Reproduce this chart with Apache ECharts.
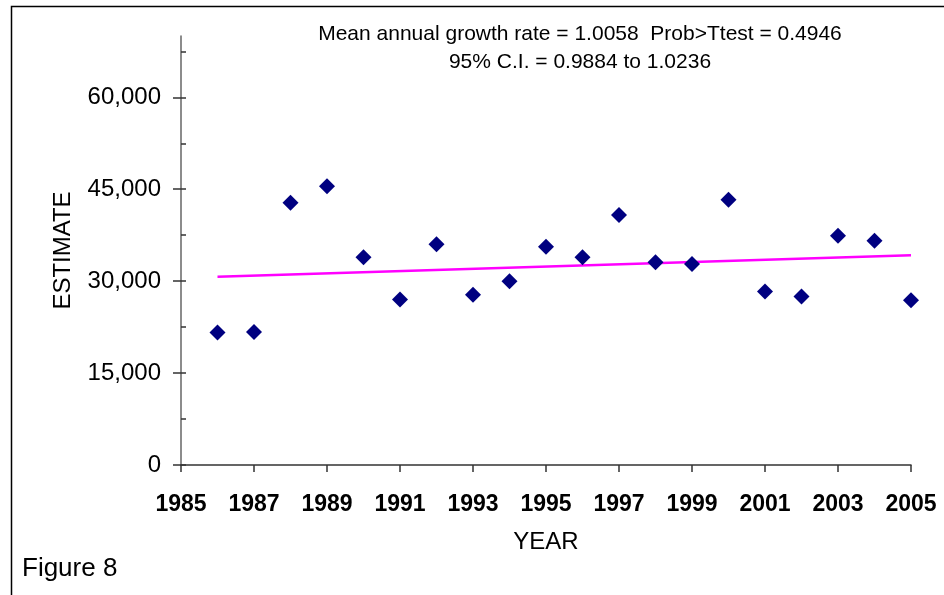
<!DOCTYPE html>
<html>
<head>
<meta charset="utf-8">
<script src="https://cdn.jsdelivr.net/npm/echarts@6/dist/echarts.min.js"></script>
<style>
  html, body { margin: 0; padding: 0; background: #fff; }
  #chart { width: 944px; height: 595px; }
</style>
</head>
<body>
<div id="chart"></div>
<script>
// survey estimates by year
const years = [1986, 1987, 1988, 1989, 1990, 1991, 1992, 1993, 1994, 1995,
  1996, 1997, 1998, 1999, 2000, 2001, 2002, 2003, 2004, 2005];
const estimates = [21600, 21700, 42800, 45500, 33900, 27000, 36000, 27800, 30000, 35600,
  33900, 40800, 33100, 32800, 43300, 28300, 27500, 37400, 36600, 26900];

// fitted trend (start and end year)
const trendYears = [1986, 2005];
const trendValues = [30730, 34230];

// y-axis labels / ticks
const majorTicks = [0, 15000, 30000, 45000, 60000];
const minorTicks = [0, 7500, 15000, 22500, 30000, 37500, 45000, 52500, 60000, 67500];

const titleLines = [
  'Mean annual growth rate = 1.0058  Prob>Ttest = 0.4946',
  '95% C.I. = 0.9884 to 1.0236'
];

const chart = echarts.init(document.getElementById('chart'), null, { renderer: 'canvas' });
const font = 'Liberation Sans, Arial, sans-serif';

const option = {
  animation: false,
  backgroundColor: '#fff',
  textStyle: { fontFamily: font },
  title: {
    text: titleLines.join('\n'),
    left: 580,
    top: 20,
    padding: 0,
    textAlign: 'center',
    textStyle: { fontFamily: font, fontSize: 21, fontWeight: 'normal', color: '#000', lineHeight: 28 }
  },
  graphic: [
    {
      type: 'rect',
      shape: { x: 11.5, y: 6.5, width: 1000, height: 700 },
      style: { fill: null, stroke: '#000', lineWidth: 1.5 },
      silent: true
    },
    {
      type: 'text',
      left: 22,
      top: 556,
      style: { text: 'Figure 8', font: '26px ' + font, fill: '#000' }
    }
  ],
  grid: { left: 181, right: 33, top: 36, bottom: 130 },
  xAxis: {
    type: 'value',
    min: 1985,
    max: 2005,
    interval: 2,
    name: 'YEAR',
    nameLocation: 'middle',
    nameGap: 65,
    nameTextStyle: { fontSize: 24, color: '#000' },
    splitLine: { show: false },
    axisLine: { onZero: false, lineStyle: { color: '#333', width: 1.5 } },
    axisTick: { inside: false, length: 7, lineStyle: { color: '#333', width: 1.5 } },
    axisLabel: {
      margin: 28,
      fontSize: 23,
      fontWeight: 'bold',
      color: '#000',
      formatter: v => String(v)
    }
  },
  yAxis: [
    {
      type: 'value',
      min: 0,
      max: 70000,
      name: 'ESTIMATE',
      nameLocation: 'middle',
      nameGap: 106,
      nameTextStyle: { fontSize: 24, color: '#000' },
      splitLine: { show: false },
      axisLine: { show: true, lineStyle: { color: '#666', width: 1.5 } },
      axisTick: { show: true, inside: true, length: 5, customValues: minorTicks, lineStyle: { color: '#333', width: 1.5 } },
      axisLabel: {
        margin: 20,
        fontSize: 24,
        color: '#000',
        customValues: majorTicks,
        formatter: v => v.toLocaleString('en-US')
      }
    },
    {
      type: 'value',
      min: 0,
      max: 70000,
      position: 'left',
      splitLine: { show: false },
      axisLine: { show: false },
      axisTick: { show: true, inside: false, length: 8, customValues: majorTicks, lineStyle: { color: '#333', width: 1.5 } },
      axisLabel: { show: false }
    }
  ],
  series: [
    {
      name: 'Trend',
      type: 'line',
      yAxisIndex: 0,
      data: trendYears.map((y, i) => [y, trendValues[i]]),
      symbol: 'none',
      lineStyle: { color: '#ff00ff', width: 2.5 },
      z: 2
    },
    {
      name: 'Estimate',
      type: 'scatter',
      yAxisIndex: 0,
      data: years.map((y, i) => [y, estimates[i]]),
      symbol: 'diamond',
      symbolSize: 16,
      itemStyle: { color: '#000080', opacity: 1 },
      z: 3
    }
  ]
};

chart.setOption(option);
</script>
</body>
</html>
